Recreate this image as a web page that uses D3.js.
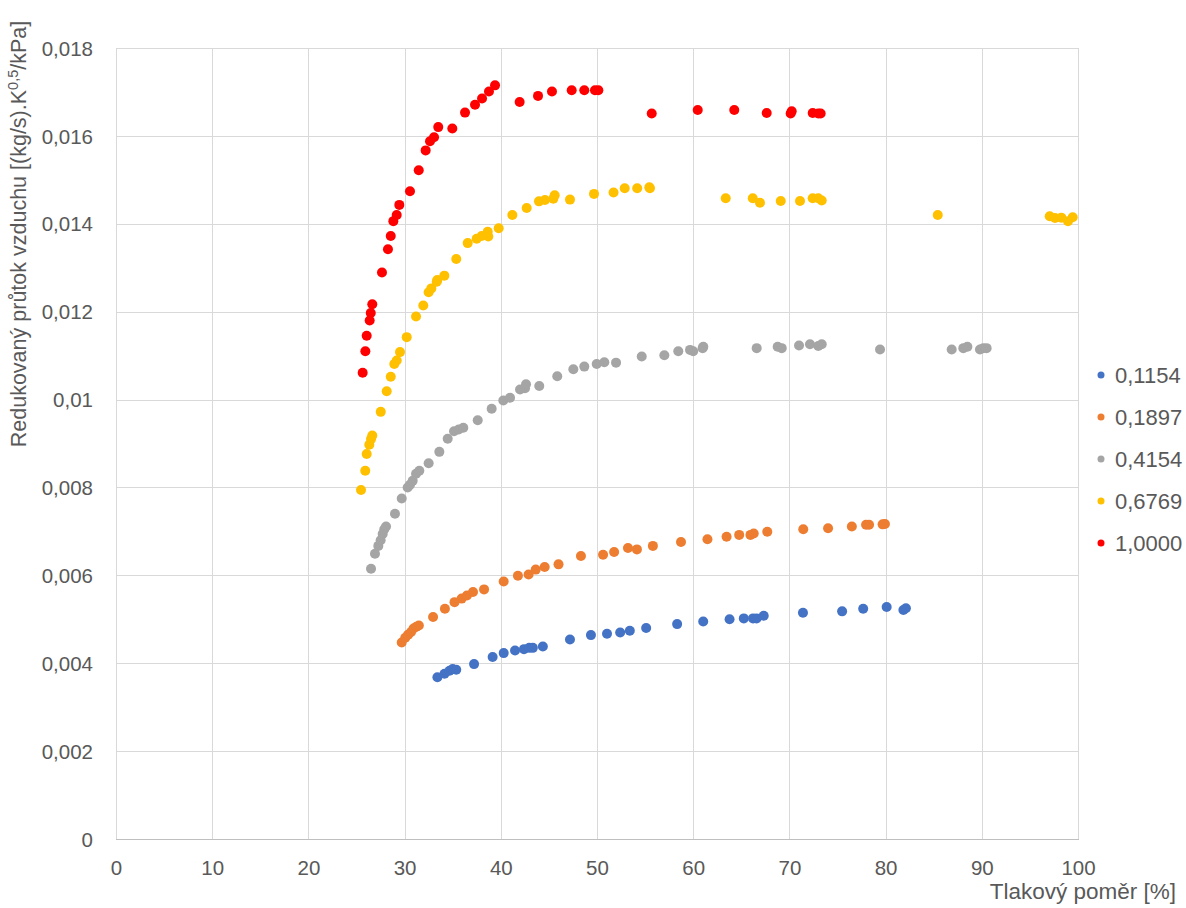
<!DOCTYPE html>
<html>
<head>
<meta charset="utf-8">
<script src="https://cdn.jsdelivr.net/npm/d3@7"></script>
<style>
  html, body { margin: 0; padding: 0; background: #fff; }
  svg { display: block; }
  text { font-family: "Liberation Sans", Arial, sans-serif; fill: #595959; }
</style>
</head>
<body>
<svg id="chart" width="1186" height="908"></svg>
<script>
const seriesNames = ["0,1154", "0,1897", "0,4154", "0,6769", "1,0000"];
const seriesColors = ["#4472C4", "#ED7D31", "#A5A5A5", "#FFC000", "#FF0000"];

const blueX = [33.41,34.15,34.67,35.0,35.37,37.22,39.15,40.30,41.48,42.41,42.96,43.33,44.37,47.19,49.37,51.04,52.41,53.41,55.11,58.33,61.04,63.78,65.26,66.22,66.59,67.33,71.41,75.48,77.67,80.11,81.85,82.11];
const blueY = [0.00368,0.00376,0.00383,0.00387,0.00385,0.00398,0.00414,0.00423,0.00429,0.00432,0.00435,0.00435,0.00438,0.00454,0.00464,0.00467,0.00470,0.00474,0.00480,0.00489,0.00495,0.00500,0.00502,0.00502,0.00502,0.00508,0.00515,0.00518,0.00524,0.00528,0.00521,0.00525];

const orangeX = [29.70,30.07,30.37,30.67,30.93,31.22,31.48,32.96,34.19,35.19,35.93,36.48,37.11,38.26,40.30,41.78,42.89,43.63,44.56,46.0,48.33,50.63,51.78,53.22,54.15,55.81,58.73,61.48,63.47,64.78,65.95,66.29,67.70,71.44,74.02,76.49,77.97,78.28,79.69,79.93];
const orangeY = [0.00447,0.00458,0.00465,0.00471,0.00479,0.00483,0.00486,0.00505,0.00524,0.00539,0.00547,0.00554,0.00562,0.00568,0.00586,0.00599,0.00602,0.00613,0.00619,0.00625,0.00644,0.00647,0.00653,0.00662,0.00659,0.00667,0.00676,0.00682,0.00688,0.00692,0.00692,0.00695,0.00699,0.00705,0.00707,0.00711,0.00715,0.00715,0.00716,0.00717];

const grayX = [26.51,26.92,27.27,27.51,27.72,27.89,28.07,29.0,29.70,30.32,30.56,30.84,31.19,31.53,32.50,33.61,34.48,35.14,35.62,36.10,37.60,39.05,40.26,40.96,42.0,42.52,42.62,44.0,45.87,47.54,48.68,49.97,50.76,51.98,54.65,57.0,58.45,59.67,60.0,60.98,61.05,66.6,68.78,69.2,71.0,72.14,73.0,73.36,79.42,86.87,88.08,88.5,89.81,90.16,90.5];
const grayY = [0.00615,0.00649,0.00667,0.00680,0.00694,0.00705,0.00711,0.00740,0.00775,0.00800,0.00806,0.00815,0.00831,0.00838,0.00855,0.00881,0.00911,0.00928,0.00932,0.00936,0.00953,0.00979,0.00998,0.01004,0.01023,0.01026,0.01035,0.01031,0.01053,0.01069,0.01075,0.01081,0.01085,0.01084,0.01098,0.01101,0.01110,0.01113,0.01110,0.01117,0.01120,0.01117,0.01120,0.01117,0.01123,0.01126,0.01122,0.01126,0.01114,0.01114,0.01117,0.01120,0.01114,0.01117,0.01117];

const yellowX = [25.47,25.91,26.06,26.33,26.51,26.64,27.52,28.14,28.56,28.93,29.18,29.52,30.22,31.19,31.94,32.50,32.78,33.34,33.40,34.13,35.37,36.56,37.49,38.01,38.64,38.70,39.78,41.20,42.69,43.97,44.59,45.46,45.60,47.19,49.69,51.72,52.88,54.18,55.44,55.5,63.38,66.19,66.94,69.10,71.10,72.42,73.0,73.36,85.42,97.06,97.61,98.27,98.96,99.45];
const yellowY = [0.00794,0.00838,0.00876,0.00897,0.00910,0.00918,0.00972,0.01019,0.01052,0.01081,0.01089,0.01108,0.01142,0.01189,0.01214,0.01244,0.01253,0.01268,0.01272,0.01282,0.01320,0.01356,0.01366,0.01372,0.01382,0.01371,0.01390,0.01420,0.01436,0.01451,0.01454,0.01457,0.01465,0.01455,0.01468,0.01471,0.01481,0.01481,0.01483,0.01481,0.01458,0.01458,0.01448,0.01452,0.01452,0.01458,0.01458,0.01453,0.01420,0.01417,0.01413,0.01414,0.01406,0.01415];

const redX = [25.64,25.92,26.06,26.37,26.48,26.64,27.65,28.27,28.56,28.83,29.18,29.45,30.56,31.47,32.19,32.64,33.06,33.50,34.96,36.28,37.32,38.05,38.77,39.40,41.96,43.87,45.32,47.37,48.68,49.79,50.14,55.69,60.47,64.27,67.64,70.13,70.24,72.42,73.0,73.25];
const redY = [0.01061,0.01110,0.01145,0.01180,0.01197,0.01217,0.01289,0.01342,0.01372,0.01406,0.01420,0.01443,0.01474,0.01522,0.01567,0.01588,0.01597,0.01620,0.01617,0.01653,0.01671,0.01685,0.01701,0.01715,0.01677,0.01691,0.01701,0.01704,0.01704,0.01704,0.01704,0.01651,0.01659,0.01659,0.01652,0.01651,0.01656,0.01652,0.01651,0.01651];

const xTicks = [0,10,20,30,40,50,60,70,80,90,100];
const yTicks = [0,0.002,0.004,0.006,0.008,0.010,0.012,0.014,0.016,0.018];
const xTitle = "Tlakový poměr [%]";
const yTitleMain = "Redukovaný průtok vzduchu [(kg/s).K";
const yTitleSup = "0,5";
const yTitleEnd = "/kPa]";

const seriesX = [blueX, orangeX, grayX, yellowX, redX];
const seriesY = [blueY, orangeY, grayY, yellowY, redY];

const svg = d3.select("#chart");
svg.append("rect").attr("width", 1186).attr("height", 908).attr("fill", "#fff");

const pLeft = 116, pRight = 1078, pTop = 48, pBottom = 839;
const x = d3.scaleLinear().domain([0, 100]).range([pLeft, pRight]);
const y = d3.scaleLinear().domain([0, 0.018]).range([pBottom, pTop]);

// gridlines
const grid = svg.append("g");
grid.selectAll("line.h").data(yTicks.filter(d => d > 0)).join("line")
  .attr("x1", pLeft).attr("x2", pRight)
  .attr("y1", d => Math.round(y(d)) + 0.5).attr("y2", d => Math.round(y(d)) + 0.5)
  .attr("stroke", "#d9d9d9").attr("stroke-width", 1);
grid.selectAll("line.v").data(xTicks.filter(d => d > 0)).join("line")
  .attr("x1", d => Math.round(x(d)) + 0.5).attr("x2", d => Math.round(x(d)) + 0.5)
  .attr("y1", pTop).attr("y2", pBottom)
  .attr("stroke", "#d9d9d9").attr("stroke-width", 1);
// axis lines
svg.append("line").attr("x1", pLeft + 0.5).attr("x2", pLeft + 0.5).attr("y1", pTop).attr("y2", pBottom)
  .attr("stroke", "#d9d9d9");
svg.append("line").attr("x1", pLeft).attr("x2", pRight + 1).attr("y1", pBottom + 0.5).attr("y2", pBottom + 0.5)
  .attr("stroke", "#bfbfbf");

// axes (labels only)
const fmtY = d => d === 0 ? "0" : String(+d.toFixed(3)).replace(".", ",");
const yAxis = svg.append("g").attr("transform", `translate(${pLeft - 23},0)`)
  .call(d3.axisLeft(y).tickValues(yTicks).tickFormat(fmtY).tickSize(0).tickPadding(0));
yAxis.select(".domain").remove();
yAxis.selectAll("text").attr("font-size", 20.5).attr("fill", "#595959")
  .attr("font-family", "Liberation Sans, Arial, sans-serif").attr("dy", "0.35em");

const xAxis = svg.append("g").attr("transform", `translate(0,${pBottom + 21})`)
  .call(d3.axisBottom(x).tickValues(xTicks).tickFormat(d3.format("d")).tickSize(0).tickPadding(0));
xAxis.select(".domain").remove();
xAxis.selectAll("text").attr("font-size", 20.5).attr("fill", "#595959")
  .attr("font-family", "Liberation Sans, Arial, sans-serif").attr("dy", "0.71em");

// titles
svg.append("text").attr("x", 1176).attr("y", 899).attr("text-anchor", "end")
  .attr("font-size", 22.5).text(xTitle);
const yt = svg.append("text").attr("transform", "translate(26,234) rotate(-90)")
  .attr("text-anchor", "middle").attr("font-size", 21.5);
yt.append("tspan").text(yTitleMain);
yt.append("tspan").attr("font-size", 14.5).attr("dy", -8).text(yTitleSup);
yt.append("tspan").attr("dy", 8).text(yTitleEnd);

// points
seriesX.forEach((xs, i) => {
  const pts = xs.map((v, j) => ({ x: v, y: seriesY[i][j] }));
  svg.append("g").selectAll("circle").data(pts).join("circle")
    .attr("cx", d => x(d.x)).attr("cy", d => y(d.y)).attr("r", 5)
    .attr("fill", seriesColors[i]);
});

// legend
const lg = svg.append("g");
seriesNames.forEach((name, i) => {
  const ly = 375 + i * 42;
  lg.append("circle").attr("cx", 1101).attr("cy", ly).attr("r", 3.5).attr("fill", seriesColors[i]);
  lg.append("text").attr("x", 1115).attr("y", ly).attr("dy", "0.35em")
    .attr("font-size", 22).text(name);
});
</script>
</body>
</html>
